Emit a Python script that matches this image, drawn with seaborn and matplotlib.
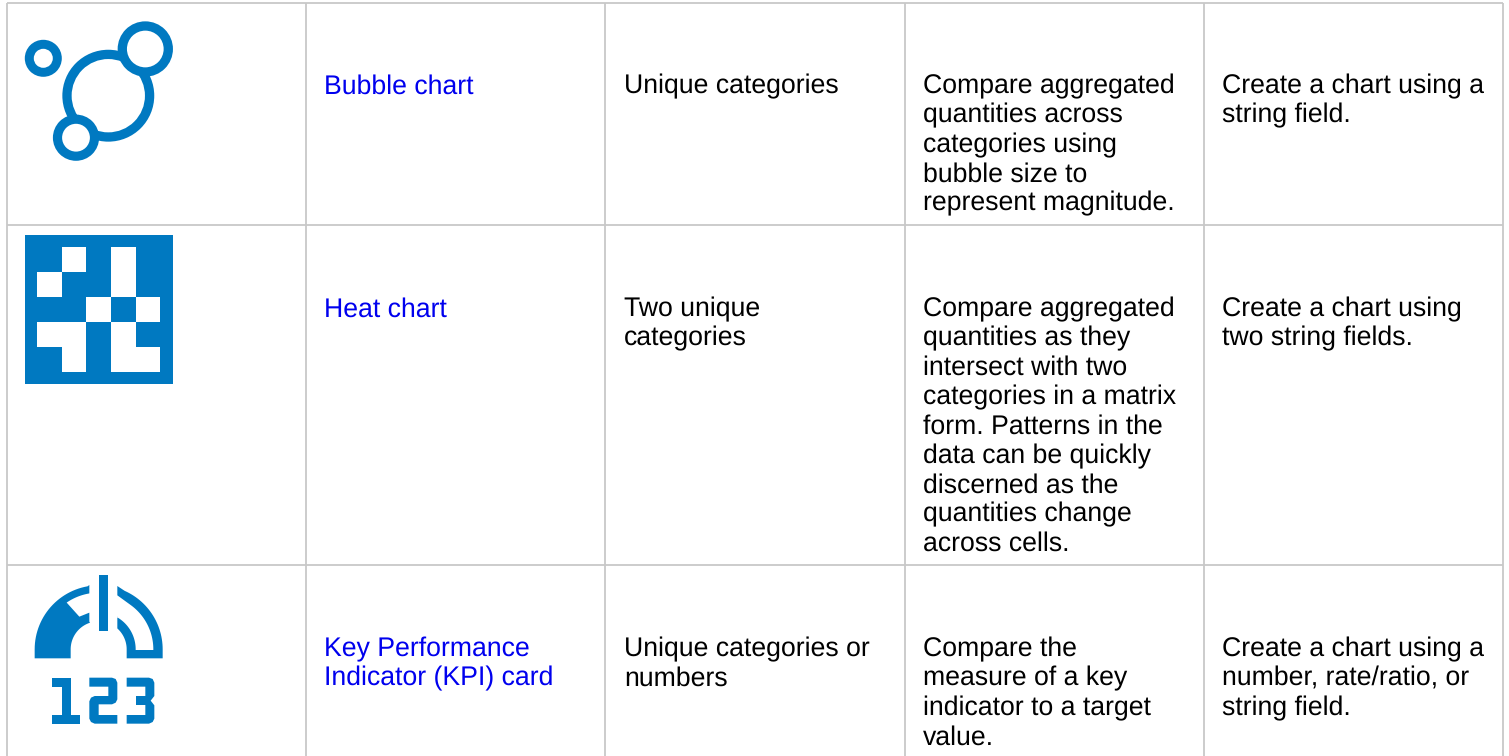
import numpy as np
import matplotlib
matplotlib.use('Agg')
import matplotlib.pyplot as plt
from matplotlib.colors import ListedColormap
from matplotlib.patches import Circle, Polygon, Rectangle
import seaborn as sns

# table text
chart_names = [['Bubble chart'], ['Heat chart'], ['Key Performance', 'Indicator (KPI) card']]
data_types = [['Unique categories'], ['Two unique', 'categories'], ['Unique categories or', 'numbers']]
purposes = [
    ['Compare aggregated', 'quantities across', 'categories using', 'bubble size to', 'represent magnitude.'],
    ['Compare aggregated', 'quantities as they', 'intersect with two', 'categories in a matrix', 'form. Patterns in the',
     'data can be quickly', 'discerned as the', 'quantities change', 'across cells.'],
    ['Compare the', 'measure of a key', 'indicator to a target', 'value.'],
]
how_to = [
    ['Create a chart using a', 'string field.'],
    ['Create a chart using', 'two string fields.'],
    ['Create a chart using a', 'number, rate/ratio, or', 'string field.'],
]

# heat chart icon cells, 1 is a white cell
heat_cells = [
    [0, 1, 0, 1, 0],
    [1, 0, 0, 1, 0],
    [0, 0, 1, 0, 1],
    [1, 1, 0, 1, 0],
    [0, 1, 0, 1, 1],
]

W, H = 1509, 756
BLUE = '#0079c1'
LINK = '#0000ee'
GRID = '#c8c8c8'
col_lines = [7, 306, 605, 905, 1204, 1502.5]
row_lines = [3, 225, 565]
text_x = [324, 624, 923, 1222]
row_base = [93.3, 316.3, 656.3]
line_h = 29.33

sns.set_theme(style='white')
plt.rcParams['font.family'] = ['Liberation Sans', 'DejaVu Sans']
plt.rcParams['text.hinting'] = 'no_hinting'
plt.rcParams['text.hinting_factor'] = 8

fig = plt.figure(figsize=(W / 100, H / 100), dpi=100)
ax = fig.add_axes([0, 0, 1, 1])
ax.set_xlim(0, W)
ax.set_ylim(H, 0)
ax.axis('off')

# grid lines
for x in col_lines:
    ax.plot([x, x], [row_lines[0], H], color=GRID, lw=1.3, solid_capstyle='butt')
for y in row_lines:
    ax.plot([col_lines[0], col_lines[-1]], [y, y], color=GRID, lw=1.3, solid_capstyle='butt')

# text columns
columns = [chart_names, data_types, purposes, how_to]
for c, col in enumerate(columns):
    color = LINK if c == 0 else 'black'
    for r, lines in enumerate(col):
        for i, line in enumerate(lines):
            ax.text(text_x[c], row_base[r] + i * line_h, line, color=color, fontsize=19.13,
                    va='baseline', ha='left')


# bubble icon
def ring(x, y, r, lw):
    ax.add_patch(Circle((x, y), r + lw / 2, color=BLUE, lw=0))
    ax.add_patch(Circle((x, y), r - lw / 2, color='white', lw=0))


ring(108.3, 95.7, 41.3, 9.3)
ring(43.3, 58.3, 14, 9)
ring(145.3, 49, 23, 9.3)
ring(76, 137.7, 18.5, 9.2)

# heat icon: blue square with a seaborn heatmap on top
ax.add_patch(Rectangle((25, 235), 148, 149, color=BLUE, lw=0))
ax_heat = fig.add_axes([37 / W, 1 - 371.7 / H, 123.3 / W, 124.4 / H])
sns.heatmap(np.array(heat_cells), ax=ax_heat, cbar=False, cmap=ListedColormap([BLUE, 'white']),
            xticklabels=False, yticklabels=False, square=False)


# kpi icon, points measured on the 3x crop (y starts at 556)
def kpi_poly(pts):
    pts = np.array(pts)
    xy = np.column_stack([pts[:, 0] / 3, 556 + pts[:, 1] / 3])
    ax.add_patch(Polygon(xy, closed=True, color=BLUE, lw=0))


def arc(r, a0, a1, n=30):
    a = np.radians(np.linspace(a0, a1, n))
    return [(296 + r * np.cos(t), 280 - r * np.sin(t)) for t in a]


left = [(104, 307)] + arc(192, 180, 100) + [(268, 87), (268, 112)] + arc(170, 100, 124.4) \
    + [(238, 182), (268, 170), (268, 197)] + arc(84, 108, 180) + [(212, 307)]
kpi_poly(left)
right = [(352, 90)] + arc(192, 66, 0) + [(488, 307), (380, 307), (380, 280)] + arc(84, 0, 48) \
    + [(352, 215), (352, 180)] + arc(111, 60, 0) + [(407, 282), (460, 282)] + arc(164, 0, 55) + [(352, 118)]
kpi_poly(right)
kpi_poly([(296, 57), (323, 57), (323, 224), (296, 224)])
kpi_poly([(157, 365), (212, 365), (212, 477), (240, 477), (240, 503), (157, 503), (157, 477), (185, 477),
          (185, 392), (157, 392)])
kpi_poly([(268, 365), (336, 365), (347, 369), (352, 380), (352, 430), (347, 440), (336, 445), (296, 445),
          (296, 477), (352, 477), (352, 503), (284, 503), (273, 498), (268, 488), (268, 436), (273, 425),
          (284, 420), (325, 420), (325, 392), (268, 392)])
kpi_poly([(380, 365), (447, 365), (458, 369), (463, 380), (463, 420), (452, 434), (463, 448), (463, 488),
          (458, 498), (447, 503), (380, 503), (380, 477), (436, 477), (436, 447), (408, 447), (408, 420),
          (436, 420), (436, 392), (380, 392)])

fig.savefig('out.png', dpi=100)
